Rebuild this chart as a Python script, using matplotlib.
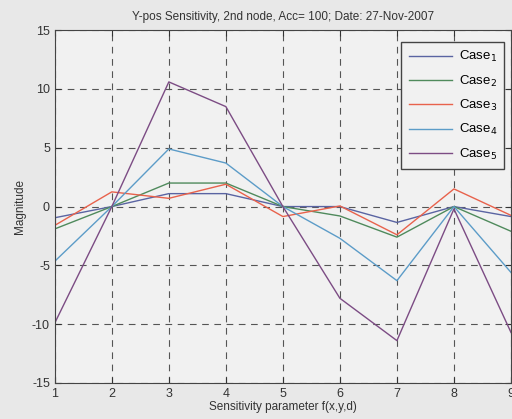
import numpy as np
import matplotlib.pyplot as plt

plt.rcParams['font.family'] = ['Liberation Sans', 'DejaVu Sans']
plt.rcParams['axes.unicode_minus'] = False

params = [1, 2, 3, 4, 5, 6, 7, 8, 9]
case1 = [-0.95, 0.0, 1.1, 1.1, 0.0, 0.0, -1.35, 0.0, -0.85]
case2 = [-1.9, 0.0, 2.0, 2.0, 0.0, -0.8, -2.6, 0.0, -2.1]
case3 = [-1.6, 1.25, 0.7, 1.9, -0.85, 0.05, -2.4, 1.5, -0.75]
case4 = [-4.65, 0.0, 4.9, 3.7, 0.0, -2.7, -6.3, 0.0, -5.6]
case5 = [-9.9, 0.0, 10.6, 8.5, 0.0, -7.8, -11.4, -0.2, -10.7]

series = [case1, case2, case3, case4, case5]
labels = ['Case$_1$', 'Case$_2$', 'Case$_3$', 'Case$_4$', 'Case$_5$']
colors = ['#5a64a2', '#4f8a5c', '#e8624c', '#5c9cc8', '#7c4c84']

fig = plt.figure(figsize=(5.12, 4.19), dpi=100, facecolor='#e8e8e8')
ax = fig.add_axes([0.107, 0.086, 0.891, 0.842], facecolor='#f1f1f1')

for vals, lab, col in zip(series, labels, colors):
    ax.plot(params, vals, color=col, lw=1.0, label=lab)

ax.set_xlim(1, 9)
ax.set_ylim(-15, 15)
ax.set_xticks(params)
ax.set_yticks([-15, -10, -5, 0, 5, 10, 15])
ax.grid(True, ls=(0, (6, 5)), color='#555555', lw=0.8)
ax.tick_params(direction='in', top=True, right=True, labelsize=9,
               colors='#333333', length=4)
for s in ax.spines.values():
    s.set_color('#444444')

ax.set_title('Y-pos Sensitivity, 2nd node, Acc= 100; Date: 27-Nov-2007',
             fontsize=8.5, color='#333333', pad=7)
ax.set_xlabel('Sensitivity parameter f(x,y,d)', fontsize=8.5, color='#333333',
              labelpad=1)
ax.set_ylabel('Magnitude', fontsize=8.5, color='#333333', labelpad=4)

leg = ax.legend(loc='upper right', fontsize=9.5, frameon=True, fancybox=False,
                handlelength=3.3, handletextpad=0.5, labelspacing=0.7,
                borderpad=0.55, bbox_to_anchor=(1.0, 0.985))
leg.get_frame().set_edgecolor('#444444')
leg.get_frame().set_facecolor('#f1f1f1')
leg.get_frame().set_alpha(1)

fig.savefig('out.png', dpi=100, facecolor=fig.get_facecolor())
